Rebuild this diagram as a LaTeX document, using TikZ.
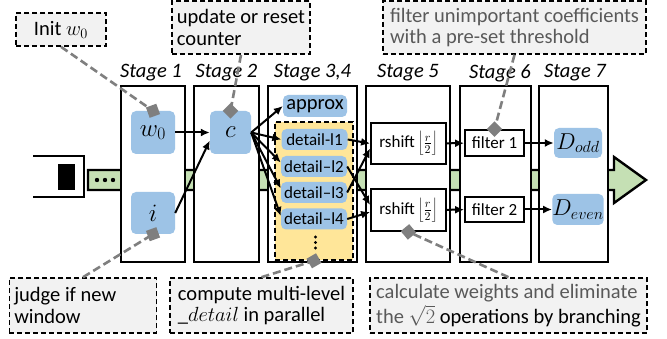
\RequirePackage{fix-cm}
\documentclass[tikz,border=0pt]{standalone}
\usepackage{fontspec}
\setmainfont{Carlito}
\usetikzlibrary{arrows.meta,shapes.geometric}
\definecolor{nodeblue}{HTML}{9DC3E6}
\definecolor{yellowfill}{HTML}{FFE699}
\definecolor{arrowgreen}{HTML}{C5E0B4}
\definecolor{calloutgray}{HTML}{F2F2F2}
\definecolor{pingray}{HTML}{7F7F7F}
\definecolor{textgray}{HTML}{595959}
\begin{document}
\begin{tikzpicture}[x=1pt,y=-1pt,
  stagebox/.style={draw=black,line width=2.4pt,fill=white,inner sep=0pt,minimum height=176pt},
  stagelabel/.style={font=\fontsize{20.5}{20}\selectfont\itshape,inner sep=0pt},
  bluebox/.style={fill=nodeblue,rounded corners=5pt,inner sep=0pt},
  mathbig/.style={font=\fontsize{25}{25}\selectfont},
  detailbox/.style={bluebox,minimum width=66pt,minimum height=21pt,font=\fontsize{17}{17}\selectfont},
  plainbox/.style={draw=black,line width=1.8pt,fill=white,inner sep=0pt,font=\fontsize{17}{17}\selectfont},
  callout/.style={draw=black,line width=1.6pt,dash pattern=on 5pt off 3pt,fill=calloutgray,inner xsep=5pt,inner ysep=0pt,align=left,font=\fontsize{20.5}{21.5}\selectfont},
  pin/.style={fill=pingray,minimum size=11pt,inner sep=0pt},
  leader/.style={draw=pingray,line width=2.6pt,dash pattern=on 8pt off 4pt},
  flow/.style={line width=2pt,-{Latex[length=9pt,width=8pt]}},
]
\useasboundingbox (0,0) rectangle (667,339);

% pipeline arrow
\draw[line width=2.4pt,fill=arrowgreen] (88,170) -- (614,170) -- (614,157) -- (646,180) -- (614,203) -- (614,190) -- (88,190) -- cycle;
\fill (97,180) circle (2.2) (105,180) circle (2.2) (113,180) circle (2.2);
% input device
\draw[line width=2.4pt] (33,156) -- (84,156) -- (84,197) -- (33,197);
\fill (58,164) rectangle (75,190);

% stages
\node[stagebox,minimum width=64pt] (s1) at (153,174) {};
\node[stagebox,minimum width=65pt] (s2) at (226.5,174) {};
\node[stagebox,minimum width=89pt] (s3) at (312.5,174) {};
\node[stagebox,minimum width=84pt] (s5) at (408,174) {};
\node[stagebox,minimum width=71pt] (s6) at (495.5,174) {};
\node[stagebox,minimum width=69pt] (s7) at (573.5,174) {};
\node[stagelabel] (l1) at (151,73) {Stage 1};
\node[stagelabel] (l2) at (226.5,73) {Stage 2};
\node[stagelabel] (l3) at (312.5,73) {Stage 3,4};
\node[stagelabel] (l5) at (408,73) {Stage 5};
\node[stagelabel] (l6) at (500,73) {Stage 6};
\node[stagelabel] (l7) at (575,73) {Stage 7};

% stage contents
\node[bluebox,mathbig,minimum width=44pt,minimum height=43pt] (w0) at (153,132.5) {$w_0$};
\node[bluebox,mathbig,minimum width=44pt,minimum height=42pt] (i) at (153,213) {$i$};
\node[bluebox,mathbig,minimum width=41pt,minimum height=43pt] (c) at (230.5,132.5) {$c$};
\node[bluebox,minimum width=64pt,minimum height=22pt,font=\fontsize{20.5}{20}\selectfont] (ap) at (315,106) {approx};
\node[draw=black,line width=1.6pt,dash pattern=on 5pt off 3pt,fill=yellowfill,minimum width=78pt,minimum height=138pt,inner sep=0pt] (grp) at (314,191) {};
\node[detailbox] (d1) at (314.5,139.5) {detail-l1};
\node[detailbox] (d2) at (314,166.5) {detail–l2};
\node[detailbox] (d3) at (314,192.5) {detail–l3};
\node[detailbox] (d4) at (314,219) {detail–l4};
\fill (315.5,237) circle (1.7) (315.5,242.5) circle (1.7) (315.5,248) circle (1.7);
\node[plainbox,minimum width=75pt,minimum height=41pt] (r1) at (408.5,143.5) {rshift\,$\left\lfloor\frac{r}{2}\right\rfloor$};
\node[plainbox,minimum width=75pt,minimum height=42pt] (r2) at (408.5,210) {rshift\,$\left\lfloor\frac{r}{2}\right\rfloor$};
\node[plainbox,minimum width=59pt,minimum height=26pt] (f1) at (494.5,143) {filter 1};
\node[plainbox,minimum width=59pt,minimum height=25pt] (f2) at (494.5,209.5) {filter 2};
\node[bluebox,font=\fontsize{23}{23}\selectfont,minimum width=48pt,minimum height=30pt] (dodd) at (578,143) {$D_{odd}$};
\node[bluebox,font=\fontsize{23}{23}\selectfont,minimum width=48pt,minimum height=31pt] (deven) at (578,209.5) {$D_{even}$};

% data flow
\draw[flow] (w0) -- (c);
\draw[flow] (i.east) -- ([yshift=-8pt]c.west);
\draw[flow] (c.east) -- (ap.west);
\draw[flow] (c.east) -- (d1.west);
\draw[flow] (c.east) -- ([yshift=4pt]d2.west);
\draw[flow] (c.east) -- ([yshift=4pt]d3.west);
\draw[flow] (c.east) -- ([yshift=3pt]d4.west);
\draw[flow] (d1.east) -- (r1.west);
\draw[flow] (d2.east) -- ([yshift=5pt]r2.west);
\draw[flow] (d3.east) -- ([yshift=-5pt]r1.west);
\draw[flow] (d4.east) -- ([yshift=-2pt]r2.west);
\draw[flow] (r1) -- (f1);
\draw[flow] (r2) -- (f2);
\draw[flow] (f1) -- (dodd);
\draw[flow] (f2) -- (deven);

% callouts
\node[callout,minimum width=90pt,minimum height=33pt] (cinit) at (61,29.5) {Init $w_0$};
\node[callout,minimum width=138pt,minimum height=53pt] (cupd) at (241,27.5) {update or reset\\counter};
\node[callout,minimum width=263pt,minimum height=53pt,text=textgray] (cfil) at (514.5,27.5) {filter unimportant coefficients\\with a pre-set threshold};
\node[callout,minimum width=134pt,minimum height=55pt] (cjud) at (83,305.5) {judge if new\phantom{xxxx}\\window};
\node[callout,minimum width=183pt,minimum height=55pt] (ccmp) at (261.5,305.5) {compute multi-level\\$\_detail$ in parallel};
\node[callout,minimum width=277pt,minimum height=55pt] (ccal) at (508.5,305.5) {\textcolor{textgray}{calculate weights and eliminate}\\[1.5pt]\textcolor{textgray}{the $\sqrt{2}$} operations by branching};

% pins
\coordinate (pw) at (w0.north);
\coordinate (pc) at (c.north);
\coordinate (pf) at (f1.north);
\coordinate (pi) at (i.south);
\coordinate (pg) at (grp.south);
\coordinate (pr) at (r2.south);
\draw[leader] (cinit.south) -- (pw);
\draw[leader] (cupd.south) -- (pc);
\draw[leader] (cfil.south) -- (pf);
\draw[leader] (cjud.north) -- (pi);
\draw[leader] (ccmp.north) -- (pg);
\draw[leader] (ccal.north) -- (pr);
\node[pin,rotate=20] (pinw) at (pw) {};
\node[pin,rotate=45] (pinc) at (pc) {};
\node[pin,rotate=45] (pinf) at (pf) {};
\node[pin,rotate=20] (pini) at (pi) {};
\node[pin,rotate=30] (ping) at (pg) {};
\node[pin,rotate=40] (pinr) at (pr) {};
\end{tikzpicture}
\end{document}
